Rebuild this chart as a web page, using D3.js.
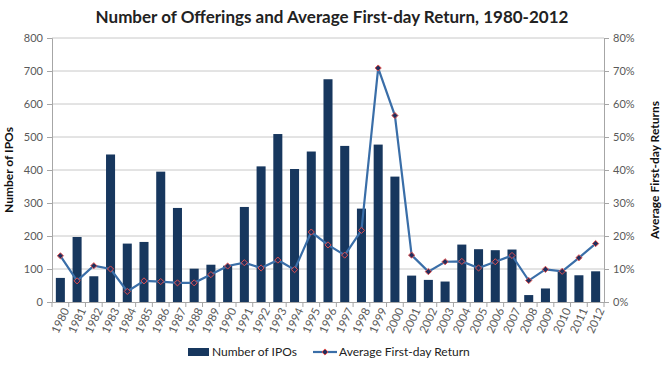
<!DOCTYPE html>
<html>
<head>
<meta charset="utf-8">
<script src="https://cdn.jsdelivr.net/npm/d3@7"></script>
<style>
  body { margin: 0; background: #fff; }
  text { font-family: Lato, "Open Sans", sans-serif; }
</style>
</head>
<body>
<div id="chart"></div>
<script>
var years = ['1980','1981','1982','1983','1984','1985','1986','1987','1988','1989','1990',
  '1991','1992','1993','1994','1995','1996','1997','1998','1999','2000','2001','2002',
  '2003','2004','2005','2006','2007','2008','2009','2010','2011','2012'];
var ipos = [73, 197, 78, 447, 177, 182, 395, 285, 101, 113, 110,
  288, 411, 509, 403, 456, 675, 473, 283, 477, 380, 80, 67,
  62, 174, 160, 157, 159, 21, 41, 92, 81, 93];
var returns = [14.0, 6.4, 11.0, 10.0, 3.2, 6.4, 6.2, 5.8, 5.8, 8.3, 10.9,
  11.9, 10.3, 12.7, 9.8, 21.2, 17.3, 14.2, 21.7, 70.9, 56.5, 14.2, 9.2,
  12.2, 12.3, 10.3, 12.2, 14.1, 6.5, 9.9, 9.3, 13.4, 17.7];
var leftTicks = [0, 100, 200, 300, 400, 500, 600, 700, 800];
var rightTicks = [0, 10, 20, 30, 40, 50, 60, 70, 80];

var W = 672, H = 373;
var m = {left: 52, right: 68, top: 38, bottom: 71};
var svg = d3.select('#chart').append('svg').attr('width', W).attr('height', H);

var x = d3.scaleBand().domain(years).range([m.left, W - m.right]).paddingInner(0.46).paddingOuter(0.23);
var y = d3.scaleLinear().domain([0, 800]).range([H - m.bottom, m.top]);
var y2 = d3.scaleLinear().domain([0, 80]).range([H - m.bottom, m.top]);

// gridlines
svg.append('g').selectAll('line').data(leftTicks.slice(1))
  .enter().append('line')
  .attr('x1', m.left).attr('x2', W - m.right)
  .attr('y1', function(d) { return y(d); }).attr('y2', function(d) { return y(d); })
  .attr('stroke', '#c8c8c8').attr('stroke-width', 1);

// bars
svg.append('g').selectAll('rect').data(ipos)
  .enter().append('rect')
  .attr('x', function(d, i) { return x(years[i]); })
  .attr('y', function(d) { return y(d); })
  .attr('width', x.bandwidth())
  .attr('height', function(d) { return y(0) - y(d); })
  .attr('fill', '#17375e');

// axes
var gl = svg.append('g').attr('transform', 'translate(' + m.left + ',0)')
  .call(d3.axisLeft(y).tickValues(leftTicks).tickSize(5).tickPadding(4));
var gr = svg.append('g').attr('transform', 'translate(' + (W - m.right) + ',0)')
  .call(d3.axisRight(y2).tickValues(rightTicks).tickSize(5).tickPadding(4).tickFormat(function(d) { return d + '%'; }));
var gx = svg.append('g').attr('transform', 'translate(0,' + (H - m.bottom) + ')')
  .call(d3.axisBottom(x).tickSize(0).tickPadding(6));

[gl, gr, gx].forEach(function(g) {
  g.select('.domain').attr('stroke', '#a6a6a6');
  g.selectAll('.tick line').attr('stroke', '#a6a6a6');
  g.selectAll('text').attr('fill', '#595959').style('font-size', '11px');
});

// x category separator ticks
svg.append('g').selectAll('line').data(years.concat(['end']))
  .enter().append('line')
  .attr('x1', function(d, i) { return m.left + i * x.step(); })
  .attr('x2', function(d, i) { return m.left + i * x.step(); })
  .attr('y1', H - m.bottom).attr('y2', H - m.bottom + 5)
  .attr('stroke', '#a6a6a6');

gx.selectAll('text')
  .style('font-size', '11.5px')
  .attr('transform', 'rotate(-65)')
  .attr('text-anchor', 'end')
  .attr('dx', '-0.3em').attr('dy', '0.5em');

// line
var line = d3.line()
  .x(function(d, i) { return x(years[i]) + x.bandwidth() / 2; })
  .y(function(d) { return y2(d); });
svg.append('path').datum(returns)
  .attr('d', line)
  .attr('fill', 'none')
  .attr('stroke', '#3a6ea8')
  .attr('stroke-width', 2.2);

svg.append('g').selectAll('path').data(returns)
  .enter().append('path')
  .attr('d', d3.symbol().type(d3.symbolDiamond2).size(24))
  .attr('transform', function(d, i) { return 'translate(' + (x(years[i]) + x.bandwidth() / 2) + ',' + y2(d) + ')'; })
  .attr('fill', '#1f2f5e')
  .attr('stroke', '#e0504f')
  .attr('stroke-width', 1);

// title
svg.append('text')
  .attr('x', 332).attr('y', 23)
  .attr('text-anchor', 'middle')
  .style('font-size', '17px').style('font-weight', 'bold')
  .attr('fill', '#222')
  .text('Number of Offerings and Average First-day Return, 1980-2012');

svg.append('text')
  .attr('transform', 'translate(13,' + ((m.top + H - m.bottom) / 2) + ') rotate(-90)')
  .attr('text-anchor', 'middle')
  .style('font-size', '12px').style('font-weight', 'bold')
  .attr('fill', '#111')
  .text('Number of IPOs');

svg.append('text')
  .attr('transform', 'translate(659,' + ((m.top + H - m.bottom) / 2) + ') rotate(-90)')
  .attr('text-anchor', 'middle')
  .style('font-size', '12px').style('font-weight', 'bold')
  .attr('fill', '#111')
  .text('Average First-day Returns');

// legend
var lg = svg.append('g').attr('transform', 'translate(0,352)');
lg.append('rect').attr('x', 188).attr('y', -4).attr('width', 21).attr('height', 8).attr('fill', '#17375e');
lg.append('text').attr('x', 212).attr('y', 4).style('font-size', '12px').attr('fill', '#222').text('Number of IPOs');
lg.append('line').attr('x1', 313).attr('x2', 337).attr('y1', 0).attr('y2', 0)
  .attr('stroke', '#3a6ea8').attr('stroke-width', 2.2);
lg.append('path').attr('d', d3.symbol().type(d3.symbolDiamond2).size(24))
  .attr('transform', 'translate(325,0)').attr('fill', '#1f2f5e').attr('stroke', '#e0504f');
lg.append('text').attr('x', 339).attr('y', 4).style('font-size', '12px').attr('fill', '#222').text('Average First-day Return');
</script>
</body>
</html>
